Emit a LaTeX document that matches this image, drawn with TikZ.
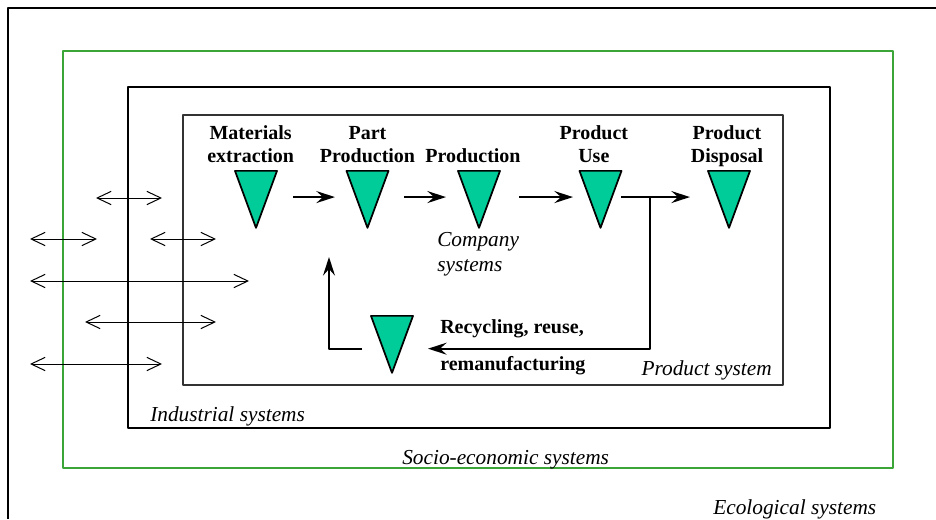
\documentclass[tikz,border=0pt]{standalone}
\usepackage{fontspec}
\setmainfont{Liberation Serif}
\usetikzlibrary{positioning,shapes.geometric,arrows.meta,calc}
\definecolor{stagefill}{RGB}{0,204,153}
\definecolor{socgreen}{RGB}{60,165,55}
\begin{document}
\begin{tikzpicture}[x=0.75pt,y=-0.75pt,line join=round,
	stage/.style={isosceles triangle,isosceles triangle stretches,shape border rotate=270,draw,line width=1.3pt,fill=stagefill,inner sep=0pt,minimum width=31.5pt,minimum height=42.75pt,anchor=north},
	stagelbl/.style={font=\fontsize{15}{17.25}\selectfont\bfseries,align=center,inner sep=0pt,text depth=0pt},
	syslbl/.style={font=\fontsize{16}{18.75}\selectfont\itshape,inner sep=0pt},
	flow/.style={line width=1.5pt,-{Stealth[length=14pt,width=9pt,inset=5pt]}},
	xchg/.style={line width=0.75pt,{Straight Barb[length=10.5pt,width=10pt]}-{Straight Barb[length=10.5pt,width=10pt]}},
	box/.style={line width=1.5pt}]
	\useasboundingbox (0,0) rectangle (936,519);
	% nested system boundaries
	\draw[box] (936,8) -| (8,519);
	\draw[box,draw=socgreen] (63,51) rectangle (893,468);
	\draw[box] (128,87) rectangle (830,428);
	\draw[line width=1.2pt,draw=black!80] (183,115) rectangle (783,385);
	% exchanges across the boundaries
	\foreach \y/\a/\b in {198/96/162,239/30/97,239/150/216,281/30/249,322/85/216,364/30/162}
		\draw[xchg] (\a,\y) -- (\b,\y);
	% life cycle stages
	\node[stage] (t1) at (256,170) {};
	\node[stage] (t2) at (367.5,170) {};
	\node[stage] (t3) at (479,170) {};
	\node[stage] (t4) at (600.5,170) {};
	\node[stage] (t5) at (729,170) {};
	\node[stage] (t6) at (392,315) {};
	\foreach \i in {1,...,5}
		\coordinate (m\i) at ($(t\i.north)!.45!(t\i.apex)$);
	\coordinate (m6) at ($(t6.north)!.56!(t6.apex)$);
	\node[stagelbl,above=5.5pt of t1,xshift=-4pt] (l1) {Materials\\extraction};
	\node[stagelbl,above=5.5pt of t2] (l2) {Part\\Production};
	\node[stagelbl,above=5.5pt of t3,xshift=-4.5pt] (l3) {Production};
	\node[stagelbl,above=5.5pt of t4,xshift=-5pt] (l4) {Product\\Use};
	\node[stagelbl,above=5.5pt of t5,xshift=-1.5pt] (l5) {Product\\Disposal};
	\node[font=\fontsize{15}{17.25}\selectfont\bfseries,align=left,inner sep=0pt,anchor=north west] (l6) at (440,319) {Recycling, reuse,\\[10.5pt]remanufacturing};
	% flows
	\draw[flow,shorten <=27.75pt,shorten >=24.4pt] (m1) -- (m2);
	\draw[flow,shorten <=27.4pt,shorten >=24.75pt] (m2) -- (m3);
	\draw[flow,shorten <=30pt,shorten >=20.6pt] (m3) -- (m4);
	\draw[flow,shorten <=15.4pt,shorten >=29.25pt] (m4) -- (m5);
	\coordinate (split) at ($(m4)!0.385!(m5)$);
	\coordinate (back) at (329,257);
	\draw[flow,line width=1.3pt,shorten >=27pt] (split) |- (m6);
	\draw[flow,line width=1.3pt,shorten <=22.5pt] (m6) -| (back);
	% system names
	\node[syslbl,align=left,anchor=north west] (comp) at (437,232) {Company\\systems};
	\node[syslbl,anchor=base east] (prod) at (772,375) {Product system};
	\node[syslbl,anchor=base west] (ind) at (150,421) {Industrial systems};
	\node[syslbl,anchor=base west] (soc) at (402,464) {Socio-economic systems};
	\node[syslbl,anchor=base west] (eco) at (713,514) {Ecological systems};
\end{tikzpicture}
\end{document}
